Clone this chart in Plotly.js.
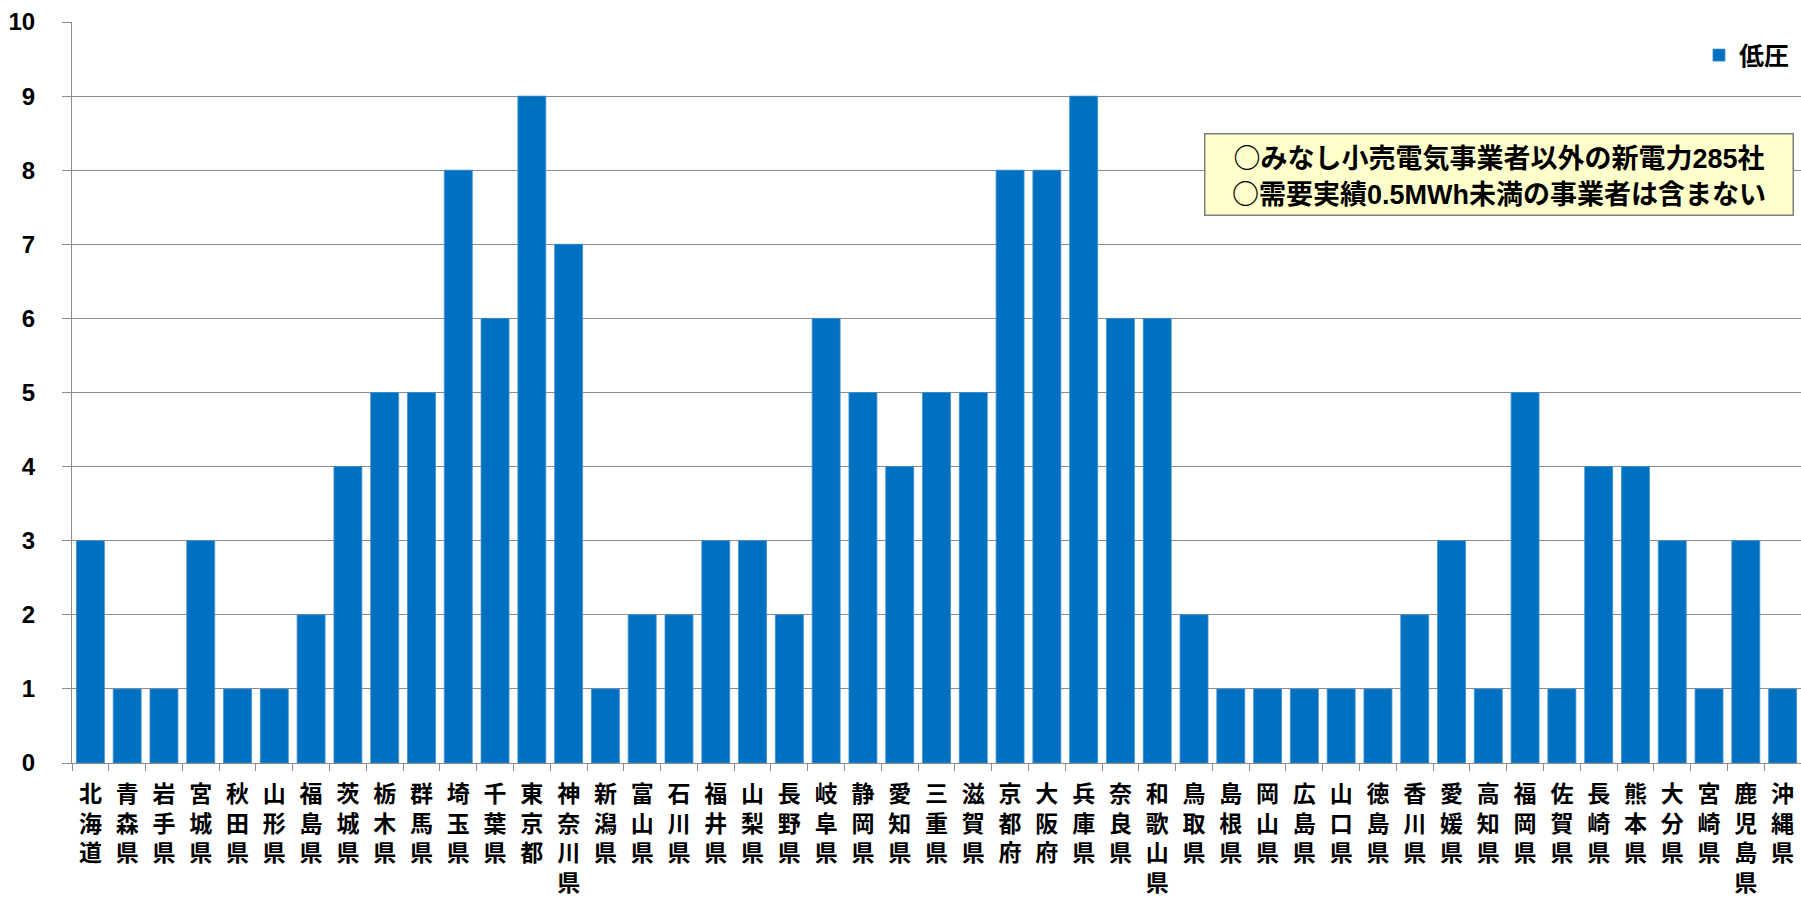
<!DOCTYPE html>
<html>
<head>
<meta charset="utf-8">
<script src="https://cdn.plot.ly/plotly-3.0.1.min.js"></script>
<style>html,body{margin:0;padding:0;background:#fff;}#chart{width:1801px;height:900px;}</style>
</head>
<body>
<div id="chart"></div>
<script>
const prefectures = ["北海道","青森県","岩手県","宮城県","秋田県","山形県","福島県","茨城県","栃木県","群馬県","埼玉県","千葉県","東京都","神奈川県","新潟県","富山県","石川県","福井県","山梨県","長野県","岐阜県","静岡県","愛知県","三重県","滋賀県","京都府","大阪府","兵庫県","奈良県","和歌山県","鳥取県","島根県","岡山県","広島県","山口県","徳島県","香川県","愛媛県","高知県","福岡県","佐賀県","長崎県","熊本県","大分県","宮崎県","鹿児島県","沖縄県"];
const lowVoltage = [3,1,1,3,1,1,2,4,5,5,8,6,9,7,1,2,2,3,3,2,6,5,4,5,5,8,8,9,6,6,2,1,1,1,1,1,2,3,1,5,1,4,4,3,1,3,1];
const seriesName = "低圧";
const yTicks = [0,1,2,3,4,5,6,7,8,9,10];
const noteLines = ["みなし小売電気事業者以外の新電力285社", "需要実績0.5MWh未満の事業者は含まない"];

const verticalLabels = prefectures.map(p => p.split("").join("<br>"));
const FONT = "'Liberation Sans', Arial, 'Noto Sans CJK JP', sans-serif";
const CJK = "'Noto Sans CJK JP'";
const noteText = noteLines.map(l => "<span style=\"font-family:" + CJK + "\">○</span>" + l).join("<br>");

const trace = {
  type: "bar",
  x: prefectures,
  y: lowVoltage,
  name: seriesName,
  marker: {color: "#0070C0", line: {color: "#3d8fd6", width: 0.8}},
  hoverinfo: "x+y"
};

const layout = {
  width: 1801, height: 900,
  margin: {l: 72, r: 0, t: 22, b: 137},
  paper_bgcolor: "#fff", plot_bgcolor: "#fff",
  font: {family: FONT, color: "#000", size: 24, weight: "bold"},
  bargap: 0.24,
  showlegend: true,
  legend: {x: 0.941, y: 0.955, xanchor: "left", yanchor: "middle",
           font: {family: FONT, size: 25, color: "#000", weight: "bold"},
           bgcolor: "rgba(0,0,0,0)", itemwidth: 30},
  xaxis: {
    type: "category",
    tickmode: "array", tickvals: prefectures, ticktext: verticalLabels,
    tickson: "boundaries",
    ticks: "outside", ticklen: 7, tickcolor: "#8c8c8c", tickwidth: 1,
    showline: true, linecolor: "#8c8c8c", linewidth: 1,
    showgrid: false, tickangle: 0, ticklabelstandoff: 10,
    tickfont: {family: FONT, size: 23, color: "#000", weight: "bold"},
    fixedrange: true
  },
  yaxis: {
    range: [0, 10], tickmode: "array", tickvals: yTicks, ticktext: yTicks.map(String),
    ticks: "outside", ticklen: 9, tickcolor: "#8c8c8c", tickwidth: 1,
    showline: true, linecolor: "#8c8c8c", linewidth: 1,
    showgrid: true, gridcolor: "#8c8c8c", gridwidth: 1,
    zeroline: false, ticklabelstandoff: 22,
    tickfont: {family: FONT, size: 24, color: "#000", weight: "bold"},
    fixedrange: true
  },
  annotations: [{
    xref: "paper", yref: "paper",
    x: 0.6545, y: 0.850, xanchor: "left", yanchor: "top",
    text: noteText, showarrow: false, align: "center",
    width: 585, height: 78,
    bgcolor: "#FFFFCC", bordercolor: "#7f7f7f", borderwidth: 1.5, borderpad: 1,
    font: {family: FONT, size: 27, color: "#000", weight: "bold"}
  }]
};

Plotly.newPlot("chart", [trace], layout, {displayModeBar: false, staticPlot: true});
</script>
</body>
</html>
